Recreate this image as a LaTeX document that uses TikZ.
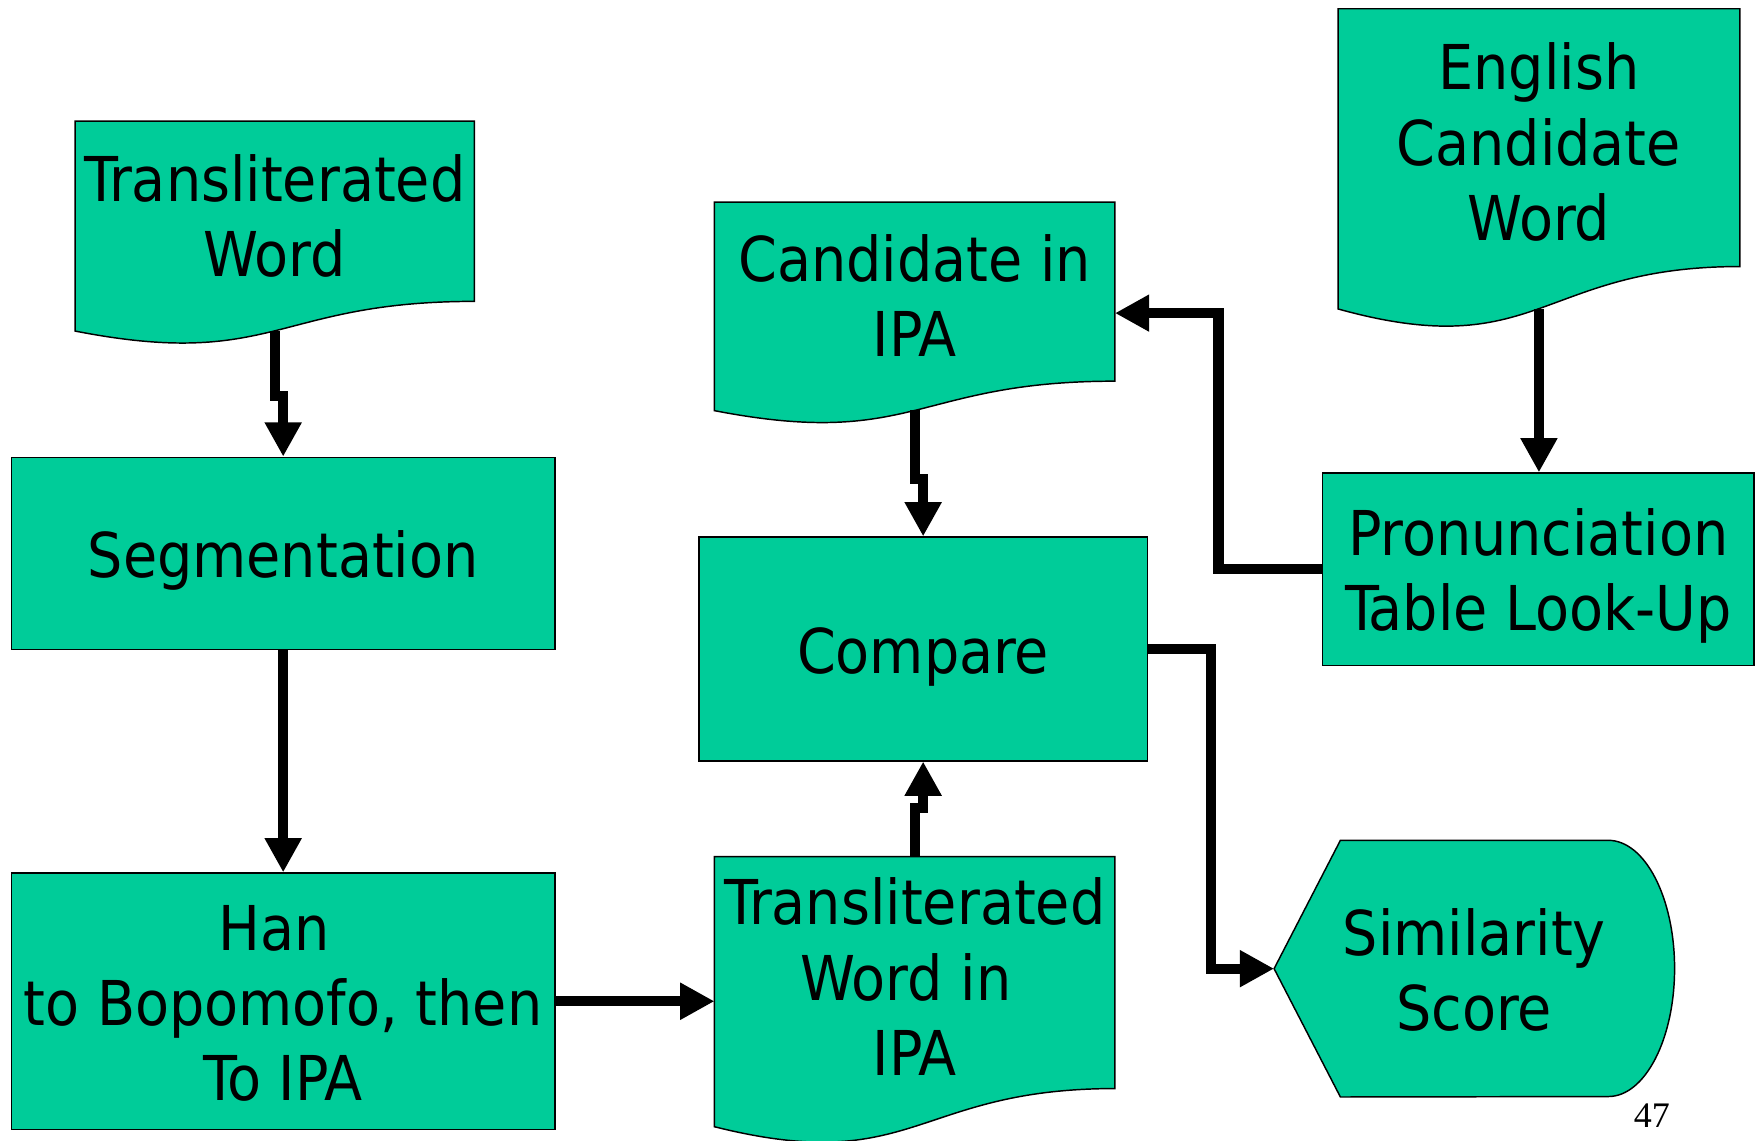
\documentclass[tikz,border=0pt]{standalone}
\usepackage{fontspec}
\setmainfont{DejaVu Sans Condensed}
\newfontfamily\numfont{Liberation Serif}
\usetikzlibrary{arrows.meta,calc}
\pgfdeclarelayer{background}
\pgfsetlayers{background,main}

\definecolor{flowgreen}{RGB}{0,204,153}
\newcommand\bigfont{\fontsize{55}{67}\selectfont}
% line strut: fixed ascent/descent so boxes centre like slide text
\newcommand\tstrut{\rule[-0.21em]{0pt}{1.2em}}
% first-line strut for document symbols (text sits a little lower)
\newcommand\dstrut{\rule[-0.21em]{0pt}{\dimexpr1.2em+6pt\relax}}
\newcommand\tsp{\hbox{\ }}

% document symbol: rectangle with a wavy lower edge below node #1
\newcommand\docoutline[1]{%
  \begin{pgfonlayer}{background}
    \path[shapeline] (#1.north west) -- (#1.north east) -- (#1.south east)
      .. controls (#1.south) and ($(#1.north)!1.3809!(#1.south)$)
      .. ($(#1.north west)!1.1646!(#1.south west)$) -- cycle;
  \end{pgfonlayer}
  \coordinate (#1-b) at ($(#1.north)!1.163!(#1.south)$);}

\begin{document}
\begin{tikzpicture}[x=1pt,y=-1pt,
  shapeline/.style={draw=black, line width=1.3pt, fill=flowgreen},
  textarea/.style={inner sep=0pt, align=center, font=\bigfont},
  procbox/.style={textarea, shapeline},
  link/.style={line width=9pt, -{Triangle[width=31pt,length=30.5pt]}},
]
\useasboundingbox (0,0) rectangle (1568,1015);

% process boxes
\node[procbox, minimum width=484pt, minimum height=171pt] (seg) at (252,492.5)
  {\tstrut Segmentation};
\node[procbox, minimum width=484pt, minimum height=228pt] (han) at (252,891)
  {\tstrut Han\tsp\\ \tstrut to Bopomofo, then\\ \tstrut To IPA};
\node[procbox, minimum width=399pt, minimum height=199pt] (cmp) at (821.5,577.5)
  {\tstrut Compare};
\node[procbox, minimum width=384pt, minimum height=171pt] (pron) at (1369,506.5)
  {\tstrut Pronunciation\\ \tstrut Table Look-Up};

% documents
\node[textarea, minimum width=355pt, minimum height=160pt] (tw1) at (244.5,188)
  {\dstrut Transliterated\\ \tstrut Word};
\docoutline{tw1}
\node[textarea, minimum width=356pt, minimum height=159pt] (cip) at (814,259.5)
  {\dstrut Candidate in\\ \tstrut IPA};
\docoutline{cip}
\node[textarea, minimum width=357pt, minimum height=229pt] (eng) at (1369.5,122.5)
  {\dstrut English\\ \tstrut Candidate\\ \tstrut Word};
\docoutline{eng}
\node[textarea, minimum width=356pt, minimum height=205pt] (twi) at (814,865.5)
  {\dstrut Transliterated\\ \tstrut Word in\tsp\\ \tstrut IPA};
\docoutline{twi}

% display symbol
\node[textarea, minimum width=238pt, minimum height=228pt] (sim) at (1312,862)
  {\tstrut Similarity\\ \tstrut Score};
\begin{pgfonlayer}{background}
  \path[shapeline] (sim.north west) -- (sim.north east)
    arc[start angle=90, end angle=-90, x radius=59pt, y radius=114pt]
    -- (sim.south west) -- ($(sim.west)+(-59pt,0pt)$) -- cycle;
\end{pgfonlayer}
\coordinate (sim-tip) at ($(sim.west)+(-59pt,0pt)$);

% page number
\node[font=\numfont\fontsize{32}{38}\selectfont, anchor=base] (pg) at (1470,1003) {47};

% connectors
\draw[link] (tw1-b) -- ++(0,58) -| (seg.north);
\draw[link] (seg.south) -- (han.north);
\draw[link] (han.east) -- (han.east -| twi.west);
\draw[link] (twi.north) -- ++(0,-43) -| (cmp.south);
\draw[link] (cip-b) -- ++(0,61) -| (cmp.north);
\draw[link] (eng-b) -- (eng-b |- pron.north);
\draw[link] (pron.west) -- ++(-92,0) |- ($(cip.north east)!0.62!(cip.south east)$);
\draw[link] (cmp.east) -- ++(56,0) |- (sim-tip);
\end{tikzpicture}
\end{document}
